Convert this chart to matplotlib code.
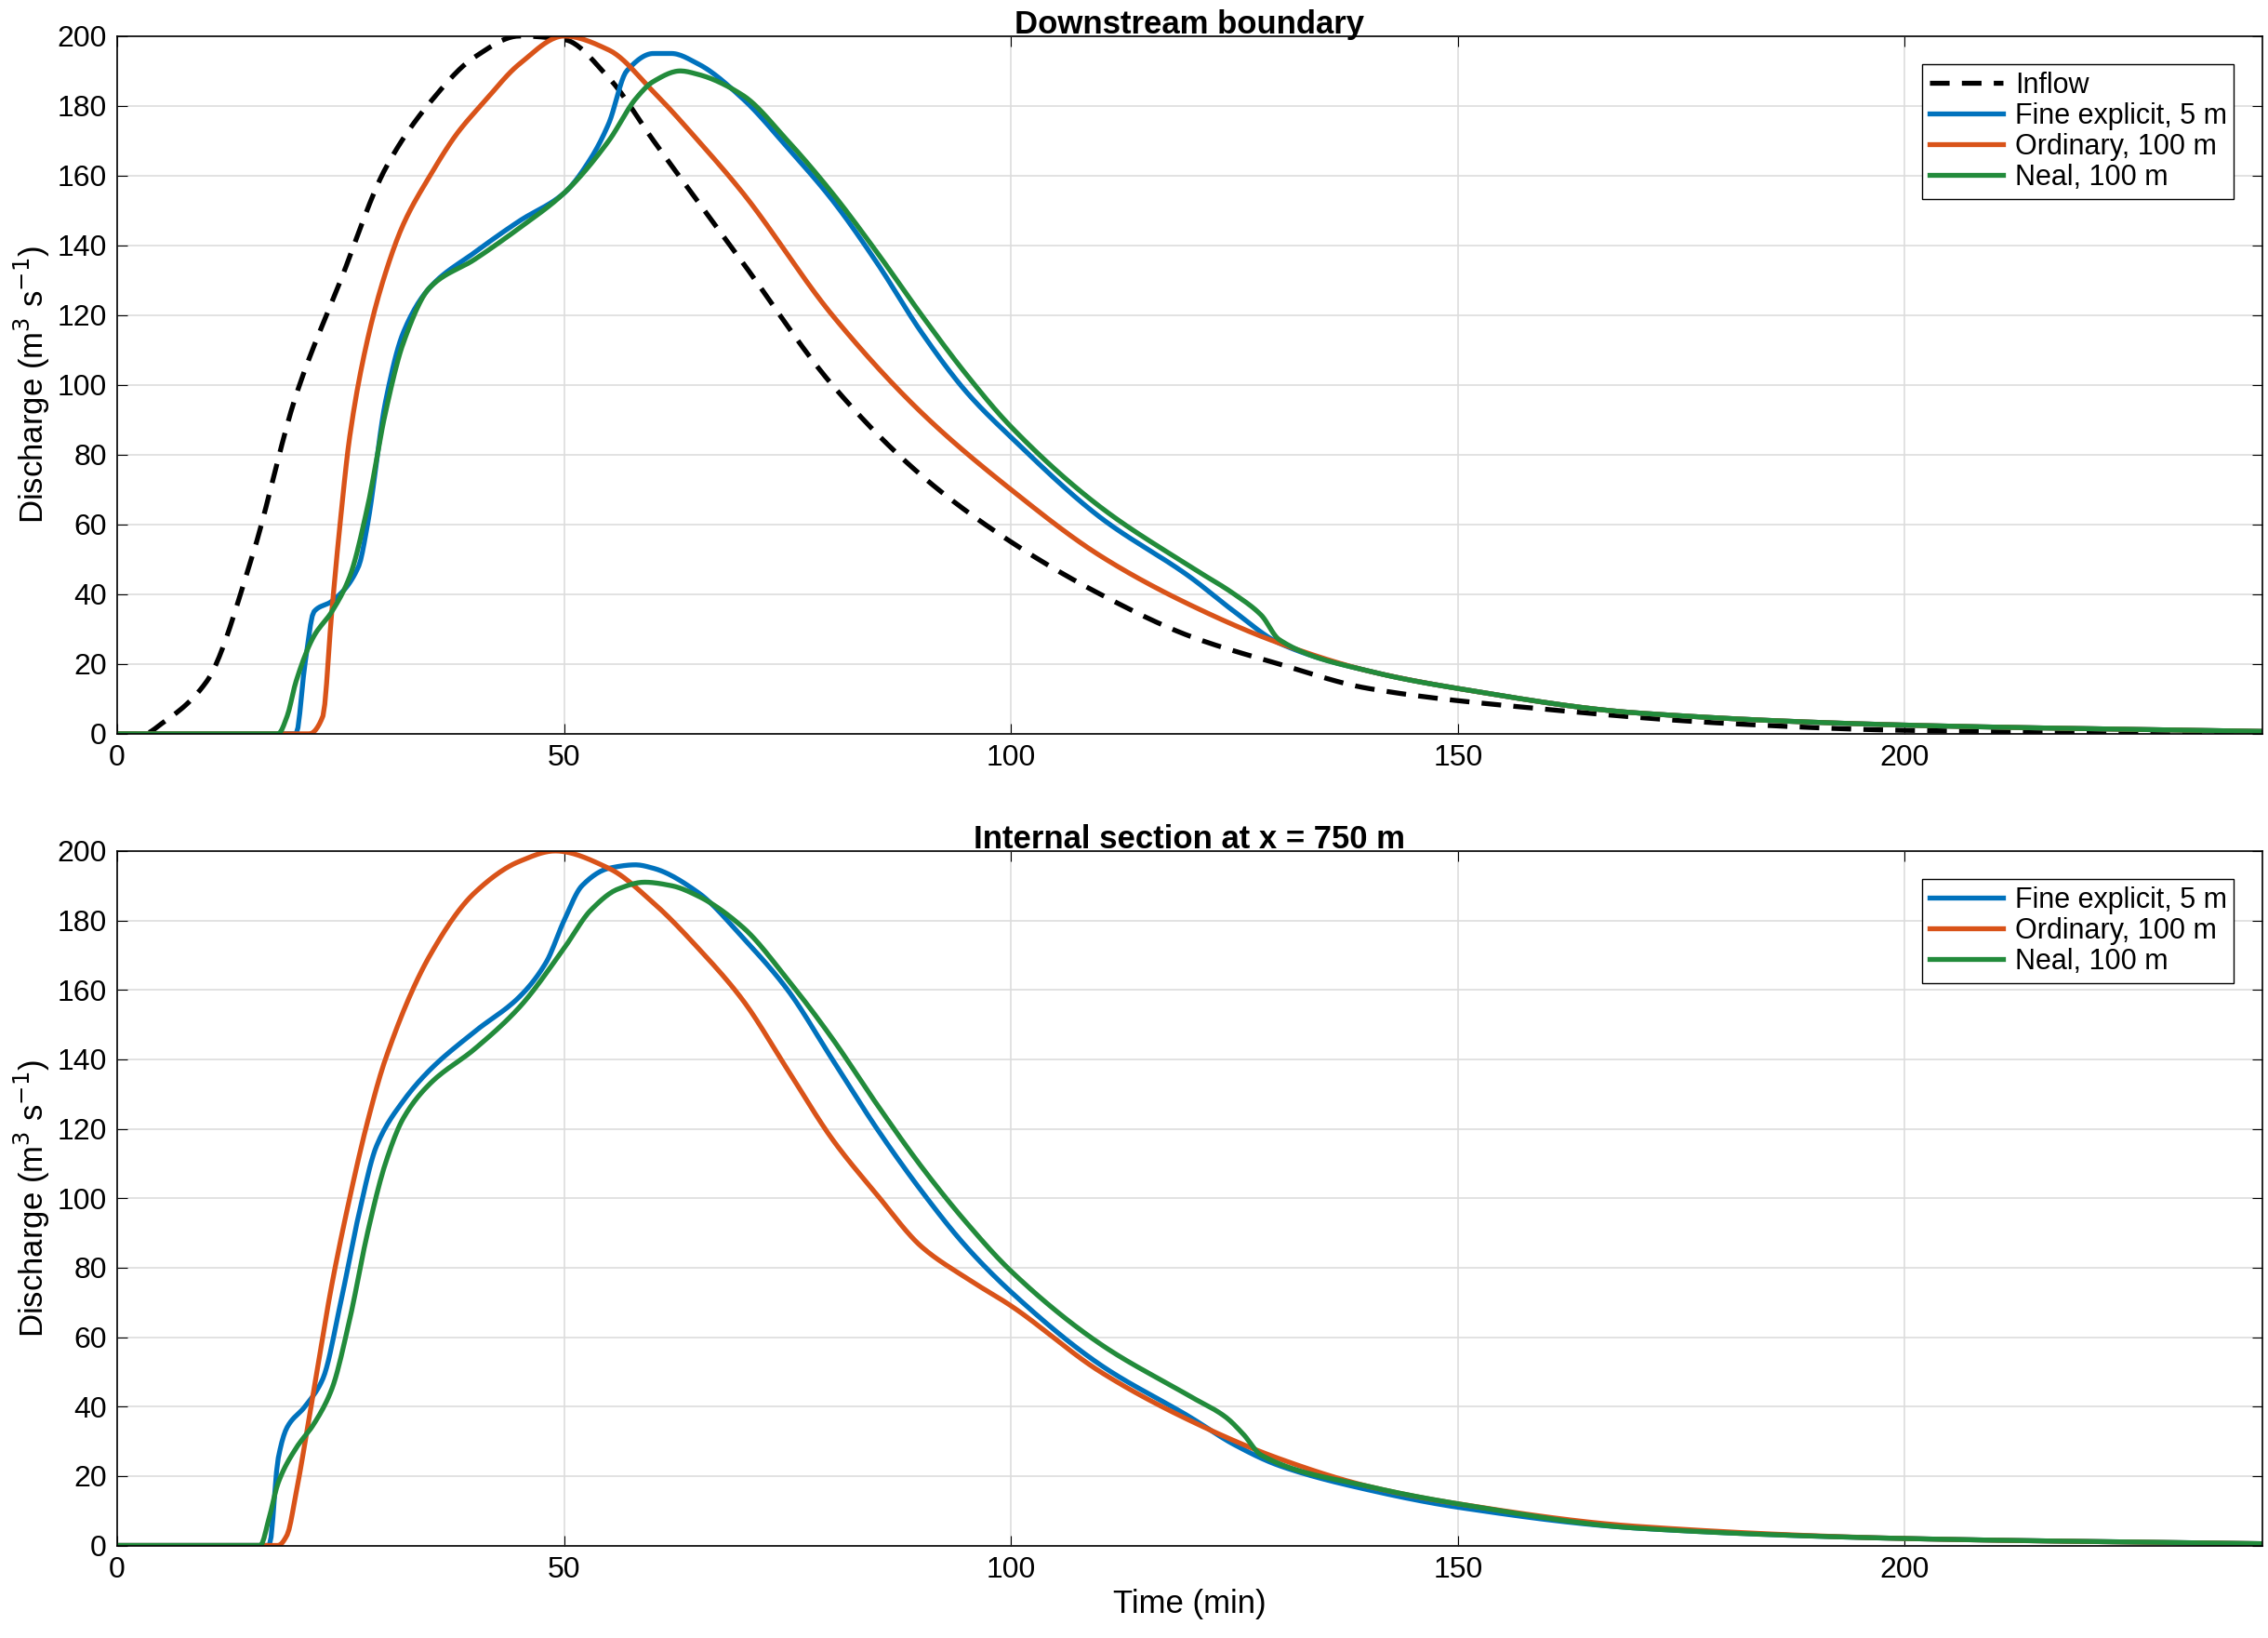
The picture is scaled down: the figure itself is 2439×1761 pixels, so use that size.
import matplotlib
matplotlib.use("Agg")
import matplotlib.pyplot as plt
import numpy as np

# Top panel data (time in min, discharge)
inflow_t = [0, 3, 5, 10, 15, 20, 25, 30, 35, 40, 45, 50, 55, 60, 70, 80, 90, 100, 110, 120, 130, 140, 160, 180, 200, 240]
inflow_q = [0, 0, 3, 15, 50, 97, 130, 162, 181, 194, 200, 199, 188, 170, 135, 100, 74, 55, 40, 28, 20, 13, 7, 3, 1, 0.2]

ord1_t = [0, 21.5, 23, 24, 25, 26, 28, 30, 32, 35, 38, 41, 45, 50, 55, 60, 65, 70, 80, 90, 100, 110, 120, 130, 140, 150, 170, 200, 240]
ord1_q = [0, 0, 5, 35, 62, 85, 113, 132, 146, 160, 172, 181, 192, 200, 196, 184, 170, 155, 120, 92, 70, 51, 37, 26, 18, 13, 6, 2.5, 0.7]

fine1_t = [0, 20, 21, 22, 24, 27, 28, 30, 32, 35, 40, 45, 50, 53, 55, 57, 60, 62, 65, 70, 75, 80, 85, 90, 95, 100, 110, 120, 125, 130, 140, 150, 170, 200, 240]
fine1_q = [0, 0, 20, 35, 38, 48, 60, 95, 115, 128, 138, 147, 155, 165, 175, 190, 195, 195, 192, 182, 168, 153, 135, 115, 98, 85, 62, 45, 35, 26, 18, 13, 6, 2.5, 0.7]

neal1_t = [0, 18, 19, 20, 22, 24, 26, 28, 30, 32, 35, 40, 45, 50, 55, 58, 60, 63, 65, 70, 75, 80, 85, 90, 95, 100, 110, 120, 125, 128, 130, 140, 150, 170, 200, 240]
neal1_q = [0, 0, 5, 15, 28, 35, 45, 65, 92, 112, 128, 136, 145, 155, 170, 182, 187, 190, 189, 183, 170, 155, 138, 120, 103, 88, 65, 48, 40, 34, 27, 18, 13, 6, 2.5, 0.7]

# Bottom panel data
ord2_t = [0, 18, 19, 20, 22, 24, 26, 28, 30, 35, 40, 45, 49, 55, 60, 65, 70, 75, 80, 85, 90, 95, 100, 110, 120, 130, 140, 150, 170, 200, 240]
ord2_q = [0, 0, 3, 15, 45, 75, 100, 122, 140, 170, 188, 197, 200, 195, 185, 172, 157, 137, 117, 101, 86, 77, 69, 50, 36, 25, 17, 12, 5.5, 2, 0.5]

fine2_t = [0, 17, 18, 19, 21, 23, 25, 27, 29, 32, 35, 40, 45, 48, 50, 52, 55, 58, 60, 65, 70, 75, 80, 85, 90, 95, 100, 110, 120, 125, 130, 140, 150, 170, 200, 240]
fine2_q = [0, 0, 25, 34, 40, 48, 70, 95, 115, 128, 137, 148, 158, 168, 180, 190, 195, 196, 195, 188, 175, 160, 140, 120, 102, 86, 73, 52, 37, 29, 23, 16, 11, 5, 2, 0.5]

neal2_t = [0, 16, 17, 18, 20, 22, 24, 26, 28, 30, 32, 35, 40, 45, 50, 53, 56, 59, 62, 65, 70, 75, 80, 85, 90, 95, 100, 110, 120, 124, 126, 128, 140, 150, 170, 200, 240]
neal2_q = [0, 0, 8, 18, 28, 35, 45, 65, 90, 110, 123, 133, 143, 155, 172, 183, 189, 191, 190, 187, 178, 163, 146, 127, 109, 93, 79, 58, 43, 37, 32, 26, 17, 12, 5, 2, 0.5]

BLUE = "#0072BD"
ORANGE = "#D95319"
GREEN = "#228B3B"


def pchip(x, y, n=1200):
    """Monotone cubic (Fritsch-Carlson) rendering through the read points."""
    x = np.asarray(x, float); y = np.asarray(y, float)
    h = np.diff(x); d = np.diff(y) / h
    m = np.zeros_like(y)
    for k in range(1, len(x) - 1):
        if d[k - 1] * d[k] > 0:
            w1 = 2 * h[k] + h[k - 1]; w2 = h[k] + 2 * h[k - 1]
            m[k] = (w1 + w2) / (w1 / d[k - 1] + w2 / d[k])
    m[0] = d[0] if d[0] * d[0] >= 0 else 0
    m[-1] = d[-1]
    if d[0] == 0: m[0] = 0
    xs = np.linspace(x[0], x[-1], n)
    i = np.clip(np.searchsorted(x, xs) - 1, 0, len(x) - 2)
    t = (xs - x[i]) / h[i]
    h00 = 2*t**3 - 3*t**2 + 1; h10 = t**3 - 2*t**2 + t
    h01 = -2*t**3 + 3*t**2; h11 = t**3 - t**2
    ys = h00*y[i] + h10*h[i]*m[i] + h01*y[i+1] + h11*h[i]*m[i+1]
    return xs, ys


plt.rcParams['font.family'] = ['Liberation Sans', 'DejaVu Sans']
fig = plt.figure(figsize=(24.39, 17.61), dpi=100)
ax1 = fig.add_axes([0.0517, 0.552, 0.9458, 0.426])
ax2 = fig.add_axes([0.0517, 0.0565, 0.9458, 0.424])

lw = 3.8

def style(ax, title):
    ax.set_xlim(0, 240)
    ax.set_ylim(0, 200)
    ax.set_xticks([0, 50, 100, 150, 200])
    ax.set_yticks(range(0, 201, 20))
    ax.grid(True, color='#DDDDDD', linewidth=1.2)
    ax.set_axisbelow(True)
    ax.tick_params(direction='in', labelsize=23, length=8, top=True, right=True, pad=8)
    for s in ax.spines.values():
        s.set_linewidth(1.2)
    ax.set_ylabel('Discharge (m$^3$ s$^{-1}$)', fontsize=25)
    ax.set_title(title, fontsize=25, fontweight='bold', pad=2)

ax1.plot(*pchip(inflow_t, inflow_q), '--', color='black', lw=lw, dashes=(4, 2.5), label='Inflow')
ax1.plot(*pchip(fine1_t, fine1_q), color=BLUE, lw=lw, label='Fine explicit, 5 m')
ax1.plot(*pchip(ord1_t, ord1_q), color=ORANGE, lw=lw, label='Ordinary, 100 m')
ax1.plot(*pchip(neal1_t, neal1_q), color=GREEN, lw=lw, label='Neal, 100 m')
style(ax1, 'Downstream boundary')

ax2.plot(*pchip(fine2_t, fine2_q), color=BLUE, lw=lw, label='Fine explicit, 5 m')
ax2.plot(*pchip(ord2_t, ord2_q), color=ORANGE, lw=lw, label='Ordinary, 100 m')
ax2.plot(*pchip(neal2_t, neal2_q), color=GREEN, lw=lw, label='Neal, 100 m')
style(ax2, 'Internal section at x = 750 m')
ax2.set_xlabel('Time (min)', fontsize=25)

for ax in (ax1, ax2):
    leg = ax.legend(loc='upper right', fontsize=22, fancybox=False, framealpha=1,
                    edgecolor='black', borderaxespad=1.0, handlelength=2.6,
                    labelspacing=0.1, borderpad=0.25, handletextpad=0.4)
    leg.get_frame().set_linewidth(1.0)

fig.savefig('out.png', dpi=100)
